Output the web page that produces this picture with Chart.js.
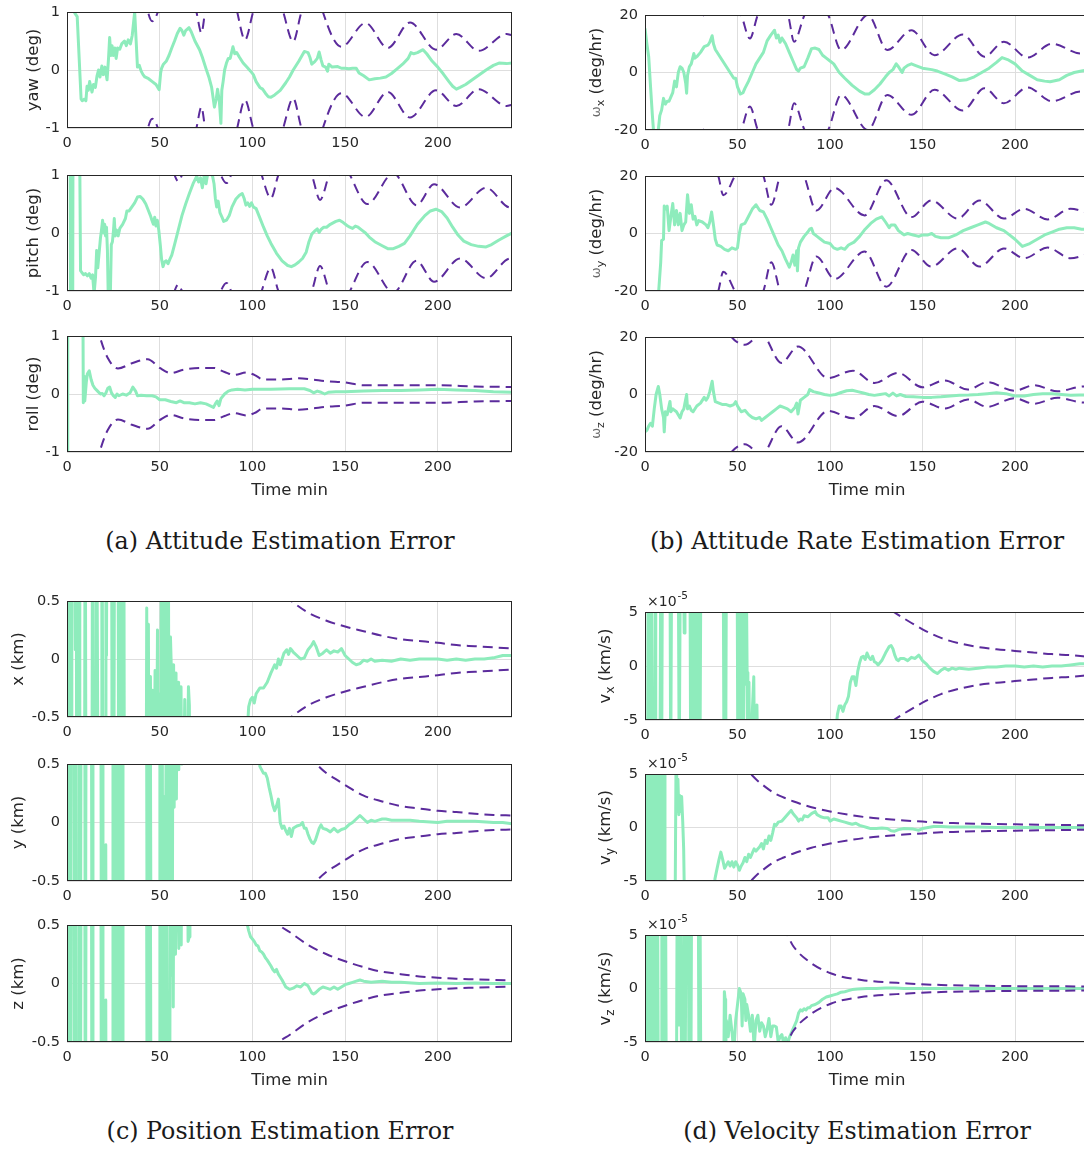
<!DOCTYPE html>
<html>
<head>
<meta charset="utf-8">
<script src="https://cdn.jsdelivr.net/npm/chart.js@4.4.1/dist/chart.umd.min.js"></script>
<style>
  html, body { margin: 0; padding: 0; background: #fff; }
  body { position: relative; width: 1084px; height: 1149px; overflow: hidden; }
  canvas.plot { position: absolute; }
  .caption {
    position: absolute; white-space: nowrap; transform: translateX(-50%);
    font-family: 'DejaVu Serif', serif; font-size: 23.8px; line-height: 30px; color: #1a1a1a;
  }
</style>
</head>
<body>
<div class="caption" style="left:280px; top:526px">(a) Attitude Estimation Error</div>
<div class="caption" style="left:857px; top:526px">(b) Attitude Rate Estimation Error</div>
<div class="caption" style="left:280px; top:1116px">(c) Position Estimation Error</div>
<div class="caption" style="left:857px; top:1116px">(d) Velocity Estimation Error</div>

<script>
// ---- time axis ----
const T_MIN = 0, T_MAX = 240;
const TIME_TICKS = [0, 50, 100, 150, 200];

// ---- attitude error (deg) and 3-sigma bound, as [time, value] ----
const yawErr = [[0,3],[3.6,1.05],[4.2,0.98],[5.5,0.92],[7.6,-0.5],[8.2,-0.53],[9.5,-0.5],[10.2,-0.53],[10.8,-0.28],[11.5,-0.35],[12.2,-0.2],[13.5,-0.38],[14.3,-0.25],[15.3,-0.3],[16.2,-0.1],[17,0],[17.8,-0.12],[18.8,0.07],[19.6,-0.08],[20.5,0.05],[21.6,-0.17],[22.4,0.2],[23,0.56],[23.6,0.25],[24.3,0.42],[25,0.25],[25.8,0.38],[26.5,0.2],[27.3,0.38],[28.5,0.36],[29.5,0.45],[31,0.5],[32,0.42],[33,0.52],[34.2,0.45],[35.2,0.6],[36.5,1.0],[37.3,0.5],[38,0.05],[39,0.08],[40,-0.02],[41,-0.08],[42,-0.12],[44,-0.15],[46,-0.2],[48,-0.25],[49.7,-0.34],[50.5,-0.05],[51,0.03],[52,0.1],[53.5,0.15],[55,0.25],[56.5,0.38],[58,0.5],[59.5,0.63],[61,0.72],[62,0.68],[63,0.6],[64,0.68],[65.8,0.73],[67,0.66],[69,0.5],[71.5,0.35],[73,0.22],[75,0.02],[76.5,-0.12],[78,-0.3],[79.5,-0.64],[80.5,-0.5],[81.2,-0.33],[82.2,-0.55],[83,-0.92],[83.5,-0.35],[84.2,-0.2],[85,0],[86,0.12],[87,0.2],[88,0.2],[89.5,0.4],[90.5,0.28],[91.5,0.3],[93,0.22],[95,0.12],[97,0.05],[99,-0.02],[100.5,-0.08],[102,-0.2],[104,-0.3],[105.5,-0.33],[107,-0.4],[108.5,-0.46],[110,-0.47],[112,-0.43],[115,-0.35],[118,-0.22],[120,-0.12],[122,0],[125,0.15],[128,0.32],[130,0.3],[131,0.22],[132,0.1],[133.5,0.14],[135,0.2],[136,0.31],[137,0.18],[138,0.07],[139.5,0.05],[140.5,-0.02],[141.2,0.1],[143,0.05],[146,0.06],[148,0.03],[150,0.03],[152,0.02],[154,0.03],[156,0.03],[157.5,-0.05],[160,-0.1],[163,-0.17],[166,-0.15],[169,-0.14],[172,-0.12],[175,-0.06],[178,0.02],[181,0.1],[184,0.2],[185.5,0.3],[187,0.28],[189,0.3],[192,0.35],[194,0.28],[197,0.15],[200,0.05],[203,-0.07],[206,-0.2],[208,-0.28],[210,-0.33],[212,-0.3],[215,-0.25],[218,-0.18],[222,-0.09],[226,0],[230,0.08],[233,0.12],[237,0.11],[240,0.12]];
const yawSigma = [[0,4],[33,3],[43.7,1],[46,0.84],[49,1],[59,2.2],[69.8,1],[72.5,0.64],[74.5,1],[84,2.2],[91.8,1],[96,0.52],[100.4,1],[109,1.8],[116.6,1],[122,0.49],[126.5,1],[135,1.4],[138,1],[148,0.4],[161,0.81],[173,0.38],[185,0.82],[199,0.35],[210,0.62],[222,0.33],[237,0.62],[240,0.6]];

const pitchErr = [[0,3],[1.6,3],[2,-3],[3,-3],[3.3,3],[6.5,3],[7.3,-0.65],[8,-0.68],[9,-0.72],[10,-0.7],[11,-0.74],[12,-0.7],[13,-0.78],[13.8,-0.72],[14.6,-1.05],[15.4,-0.75],[16,-0.3],[16.6,-0.6],[17.3,-0.35],[18,-0.1],[18.6,0.05],[19.2,0.22],[19.7,0],[20.3,0.15],[20.8,-0.05],[21.3,0.1],[21.8,-0.3],[22.3,-1.2],[23.3,-1.2],[23.9,-0.2],[24.5,-0.15],[25.1,0.05],[25.5,0.25],[26,-0.05],[26.8,0.05],[27.6,-0.05],[28.5,0.08],[30,0.15],[31.5,0.25],[32.3,0.38],[33.5,0.38],[35,0.45],[36.5,0.52],[38,0.62],[39.5,0.63],[41,0.58],[42.5,0.5],[44,0.38],[45,0.3],[45.8,0.22],[46.6,0.15],[47.3,0.27],[48,0.12],[48.7,0.22],[49.5,0.05],[50.3,-0.2],[51,-0.45],[51.8,-0.58],[52.6,-0.5],[53.5,-0.48],[54.5,-0.53],[55.5,-0.45],[56.5,-0.38],[58,-0.2],[60,0.05],[62,0.3],[64,0.5],[66,0.68],[68,0.85],[70,0.98],[71,0.88],[72,0.95],[73,0.78],[74,1.0],[75,0.85],[76,1.05],[77.5,1.02],[78.5,0.98],[79.3,0.85],[80,0.6],[80.7,0.45],[81.5,0.55],[82.5,0.35],[83.5,0.28],[84.5,0.2],[86,0.22],[87.5,0.3],[89,0.45],[91,0.58],[93,0.65],[94.5,0.68],[95.5,0.6],[96.5,0.48],[97.5,0.52],[98.5,0.46],[99.5,0.52],[100.5,0.45],[102,0.42],[104,0.26],[106,0.1],[108,-0.05],[110,-0.18],[113,-0.35],[116,-0.48],[119,-0.56],[121,-0.58],[123,-0.55],[125,-0.5],[127,-0.44],[129,-0.33],[130.5,-0.15],[132,-0.02],[133.5,0.03],[135,0.07],[136,0.01],[137,0.06],[138.5,0.1],[140,0.1],[142,0.15],[145,0.2],[147,0.22],[149,0.18],[151,0.13],[152.5,0.1],[154,0.08],[155.5,0.12],[157,0.1],[159,0.05],[161,0],[163,-0.07],[166,-0.15],[170,-0.22],[173,-0.27],[176,-0.27],[179,-0.23],[182,-0.18],[185,-0.05],[189,0.15],[193,0.3],[196,0.38],[199,0.41],[202,0.37],[205,0.26],[208,0.1],[211,-0.04],[214,-0.14],[218,-0.2],[222,-0.23],[226,-0.24],[229,-0.2],[233,-0.12],[237,-0.05],[240,0]];
const pitchSigma = [[0,4],[48,2.2],[58,1],[60,0.89],[62,1],[73,2.0],[83,1],[86,0.86],[88.5,1],[98,1.8],[105,1],[110,0.6],[114,1],[123,1.5],[132,1],[136.5,0.57],[141.5,1],[149,1.25],[152.6,1],[162,0.5],[176,1.03],[188.5,0.48],[198,0.84],[212,0.44],[226,0.78],[239,0.44],[240,0.44]];

const rollErr = [[0,-3],[0.4,3],[8.4,3],[8.8,-0.15],[9.2,0.3],[9.6,-0.12],[10.4,0.2],[11,0.35],[12,0.4],[13,0.25],[14,0.15],[15,0.1],[16.5,0.05],[18,0],[19,0.01],[20,-0.03],[21,0.02],[22,0.1],[23,0.12],[24,0.02],[25,-0.03],[26,-0.06],[27,0],[28,-0.03],[30,0],[32,-0.02],[34,0.02],[35.5,0.12],[37,0.05],[38,-0.03],[40,-0.02],[43,-0.03],[46,-0.03],[48,-0.05],[50,-0.1],[53,-0.1],[56,-0.13],[59,-0.15],[61,-0.12],[63,-0.15],[66,-0.15],[69,-0.17],[72,-0.15],[75,-0.17],[77,-0.2],[79,-0.23],[80,-0.17],[81,-0.12],[82,-0.2],[83,-0.08],[85,0],[87,0.05],[89,0.07],[92,0.08],[96,0.07],[100,0.08],[110,0.08],[120,0.09],[128,0.09],[131,0.06],[133,0.02],[135,0.05],[137,0.03],[139,0],[141,0.03],[145,0.04],[150,0.04],[160,0.05],[170,0.06],[180,0.06],[190,0.07],[200,0.08],[210,0.07],[220,0.06],[230,0.04],[240,0.03]];
const rollSigma = [[10,2],[17.6,1],[22,0.62],[27.5,0.44],[35,0.53],[43.5,0.6],[50,0.45],[56,0.36],[63,0.42],[72,0.45],[79,0.45],[85,0.38],[90,0.33],[97,0.37],[101,0.33],[106,0.25],[115,0.25],[125,0.27],[132,0.25],[140,0.22],[150,0.2],[160,0.15],[180,0.15],[200,0.15],[220,0.13],[240,0.12]];

// ---- attitude rate error (deg/hr) ----
const rateXErr = [[0,15.3],[1,10],[2,5.5],[3,-5],[4,-15],[4.8,-22],[6,-26],[7.2,-20],[8,-15],[9,-13],[10,-9],[11,-11],[12,-10],[13,-10],[14,-8.5],[15,-7],[16,-3],[17,-5],[18,0],[19,2],[20,1.5],[21,0],[22,-3.7],[22.5,-7.2],[23,-1],[24,2],[25,3],[26.4,6.6],[27,5],[28,5.5],[30,7],[32,9],[34,9.5],[35,10.5],[36.3,12.8],[37,10],[38,8],[40,6],[42,4],[44,2],[46,0],[48,-2],[49,-2],[50,-5],[51.6,-7.5],[53,-7],[54,-5.5],[56,-3],[58,0],[60,3],[62,5],[64,7],[66,11],[68,13],[70,14.7],[71,12],[72,13],[73,10.5],[74,12],[75,11],[76,10],[78,7],[80,4],[82,1],[83,0.5],[84,1.5],[86,2],[88,5],[90,8.3],[92,8.5],[94,8],[96,6],[98,5],[100,4],[102,3],[105,0],[108,-2],[112,-4.5],[116,-6.5],[119,-7.5],[121,-7.5],[124,-6],[127,-4],[130,-1.5],[132,0],[134,1],[135.8,3],[137,2],[138,1],[139,0],[140,1.5],[142,2.5],[144,3],[146,2.5],[150,1.5],[155,1],[158,0.5],[162,-0.5],[166,-1.5],[170,-2.8],[174,-2.5],[178,-1.5],[182,0],[186,1.5],[190,3.5],[193,5.2],[196,4.5],[200,3],[204,0.5],[208,-1],[212,-2.5],[216,-3],[219,-3.2],[224,-2.5],[228,-1],[232,0],[236,0.5],[240,1]];
const rateXSigma = [[0,40],[20,35],[33,19.5],[45,28],[52,20],[56.7,11.8],[61,20],[69,26],[77.3,20],[80.6,10.7],[86.3,20],[93,24],[99,20],[106,7.8],[120.5,20],[131,7.8],[144,14.7],[156.5,6],[171.8,13.2],[183.5,5.5],[194,10.7],[206.8,5.2],[220,10],[235.6,6.6],[240,7]];

const rateYErr = [[0,-30],[6.8,-30],[7.4,-20],[8.5,-10],[9,-2.4],[10,-2],[10.4,9.6],[11,8.5],[12,9.5],[13,1],[14,6],[15,10.4],[16,3],[17,8],[18,3],[19,7],[20,1],[21,3],[22,4],[23,13.5],[24,7],[25,10],[26,5],[27,6],[28,3],[29,4.5],[31,4],[33,3],[34,2],[35,4],[36,7.5],[37,3],[38,-2],[39,-4],[41,-4.5],[43,-5.5],[45,-6],[47,-5],[49,-5.5],[50,-5],[51,0],[52,3],[54,3.5],[56,6],[58,8.5],[60,10],[62,8],[64,7.5],[66,5],[68,2],[70,-1],[72,-4],[74,-6],[76,-9],[78,-11.7],[79,-10],[80,-7.5],[81,-11],[82,-6],[82.4,-13],[83,-5],[84,-3],[86,-1],[88,0.5],[89,1.5],[90,1.8],[91,0],[93,-1],[95,-2],[97,-3],[100,-3.5],[102,-5],[104,-5.5],[106,-5],[108,-5.5],[110,-4],[113,-3],[116,-1],[119,1.5],[122,3.5],[125,5],[128,5.8],[130,4],[132,2],[133,3],[135,3],[137,1],[139,0],[140,-0.5],[142,0],[145,-0.5],[148,-1],[150,-0.5],[153,-0.5],[155,0],[157,-1],[160,-1.5],[164,-1.5],[168,-0.5],[172,1],[176,2],[180,3],[184,4],[186,3.5],[190,2],[194,1],[197,-0.5],[200,-2],[204,-4.5],[208,-3.5],[212,-2],[216,-0.5],[220,0.5],[224,1.5],[228,2],[232,2],[236,1.5],[240,1.5]];
const rateYSigma = [[0,40],[30,30],[39.6,20],[42.3,13.3],[48.6,20],[56,28],[64,20],[68.3,10],[73,20],[80,26],[86,20],[92.6,8],[102.5,15.8],[118.7,6.3],[130.4,18.5],[144,5.7],[154.7,11.5],[169,5.2],[180.8,11.5],[194,5.2],[205,8.6],[217.6,4.9],[230,8.6],[240,7]];

const rateZErr = [[0,-13],[1,-12.5],[2,-11],[3,-10],[4,-11],[5,-5],[6,0],[7.2,2.8],[8,0],[9,-5],[10,-8],[10.4,-13],[11,-6],[12,-7],[13.5,-2.4],[14,-6],[15,-5],[17,-6],[19,-8.2],[20,-6],[21,-5],[22.5,0],[23,-5],[24,-4],[25,-5.5],[26,-6],[28,-4],[30,-3],[32,-1],[33,-2],[34,-1],[35,1],[36.3,4.6],[37,1],[38,-2.5],[40,-3],[42,-3.5],[44,-3.5],[46,-4],[48,-3.5],[49,-2.5],[50,-4],[51,-5],[52,-6],[54,-5.5],[56,-7],[58,-8],[60,-8.5],[62,-8],[63,-9],[65,-8],[67,-7],[69,-6],[71,-5],[73,-4],[75,-4.5],[77,-5],[79,-6],[81,-4.5],[82,-3],[82.7,-6.8],[84,-2],[86,-1],[88,0],[89,1.7],[91,1],[94,0.5],[97,0],[100,-0.3],[103,0],[106,0.7],[109,1.3],[112,1.5],[115,1],[118,0.5],[121,0],[124,-0.3],[127,0],[130,0.3],[132,-0.5],[134,0.5],[136,-0.5],[138,0],[141,-0.7],[145,-0.8],[150,-1],[155,-1],[160,-0.8],[165,-0.5],[170,-0.3],[175,-0.2],[180,0],[185,0.3],[190,0.6],[195,0.3],[200,-0.5],[205,-0.5],[210,0],[215,0.3],[220,0.3],[225,0],[230,-0.3],[235,-0.2],[240,-0.2]];
const rateZSigma = [[30,40],[46.8,20],[54,17.3],[63,21],[73.7,11],[82.7,16.7],[99,5.7],[112.4,8.3],[124,4],[136.7,7.5],[150,2.5],[162,4.9],[174.5,1.7],[185,4.3],[199.6,1.3],[210.4,3.2],[223,1.1],[237,2.8],[240,2.7]];

// ---- position error (km) ----
const posXErr = [[0,2],[0.4,-2],[0.8,2],[1.3,-2],[1.8,2],[2.3,-2],[2.6,2],[3.8,2],[4.5,0.08],[4.9,2],[5.3,-2],[6.2,-2],[6.5,2],[6.9,-2],[9.4,-2],[9.8,2],[10.3,-2],[13.4,-2],[13.8,2],[14.3,-2],[15.5,-2],[15.9,2],[16.4,0.1],[16.9,-2],[18.4,-2],[18.8,2],[19.5,-2],[20.6,-2],[21,2],[21.3,0.03],[21.6,2],[24,2],[24.4,-2],[24.8,2],[25.2,-2],[25.7,2],[27.5,2],[27.9,-2],[28.4,2],[28.9,-2],[29.4,2],[30,-2],[30.6,2],[31,-2],[42.6,-2],[43,0.44],[43.4,-2],[43.9,0.3],[44.3,-2],[45,-0.15],[45.4,-2],[46.2,-0.27],[46.6,-2],[47.5,-0.1],[48,-2],[48.8,0.25],[49.3,-2],[50,-0.3],[50.5,-2],[51,2],[51.6,-2],[52.2,2],[52.8,-2],[53.3,2],[54,-2],[54.5,2],[55.2,-2],[55.8,0.19],[56.3,-0.1],[56.8,-2],[57.5,-0.05],[58,-2],[58.8,-0.12],[59.4,-2],[60.2,-0.2],[60.8,-2],[61.5,-0.24],[62.2,-2],[63.5,-0.35],[64,-2],[65.5,-0.24],[66,-0.4],[66.6,-2],[96.8,-2],[97.3,-0.6],[98,-0.41],[99,-0.35],[100,-0.33],[101,-0.38],[102,-0.3],[104,-0.25],[106,-0.25],[108,-0.2],[110,-0.12],[112,-0.05],[113,-0.08],[114,0],[115,-0.05],[117,0.05],[118.5,0.08],[119.5,0.04],[120.5,0.09],[122,0.06],[124,0.03],[126,0],[128,0.01],[130,0.08],[132,0.12],[133,0.15],[134.5,0.1],[136,0.03],[138,0.05],[140,0.08],[142,0.05],[144,0.07],[146,0.06],[148,0.09],[150,0.03],[152,0],[154,-0.03],[156,-0.05],[158,-0.04],[160,-0.01],[162,-0.02],[164,0],[166,-0.02],[170,-0.01],[175,-0.02],[180,0],[185,-0.01],[190,0],[200,0],[205,-0.01],[210,0],[215,-0.01],[220,0],[225,0],[230,0.01],[235,0.03],[240,0.03]];
const posXSigma = [[100,0.85],[110,0.65],[121,0.5],[130,0.4],[140,0.33],[150,0.28],[160,0.24],[170,0.2],[180,0.17],[190,0.155],[200,0.14],[210,0.12],[220,0.11],[230,0.1],[240,0.09]];

const posYErr = [[0,-2],[0.3,2],[0.8,-2],[1.3,2],[1.8,-2],[2.3,2],[3.6,2],[4,-2],[4.4,2],[4.8,-2],[6.3,-2],[6.7,2],[7.2,-2],[7.7,2],[9.5,2],[9.9,-2],[10.4,2],[13.1,2],[13.5,-2],[14,2],[18.2,2],[18.6,-2],[19,2],[19.4,-2],[20.6,-2],[20.9,-0.19],[21.2,-2],[24.4,-2],[24.8,2],[25.2,-2],[25.7,2],[26.6,2],[27,-2],[27.5,2],[28.4,2],[28.8,-2],[29.3,2],[29.8,-2],[30.2,2],[42.8,2],[43.3,-2],[43.8,2],[44.3,-2],[44.8,2],[45.4,-2],[49.7,-2],[50.1,2],[50.6,-2],[51.2,2],[51.8,-2],[52.3,0.22],[52.8,-2],[53.3,0.15],[53.8,2],[54.3,-2],[54.9,2],[55.5,-2],[56.1,2],[56.7,-2],[57.2,2],[57.8,0.13],[58.4,2],[59,0.2],[59.5,2],[60.3,0.45],[60.8,2],[61.5,0.5],[62,2],[103.4,2],[104,0.48],[105,0.45],[106,0.42],[107,0.42],[108,0.38],[109,0.3],[110,0.23],[111,0.15],[112,0.1],[113,0.14],[114,0.2],[115,0],[116,-0.05],[117,-0.03],[118,-0.07],[119,-0.1],[120,-0.05],[121,-0.12],[122,-0.05],[124,-0.03],[126,-0.02],[127,0],[128,-0.05],[129,-0.05],[130,-0.1],[131,-0.14],[132,-0.17],[133,-0.18],[134,-0.15],[135,-0.1],[136,-0.05],[137,-0.02],[138,-0.05],[140,-0.06],[142,-0.08],[144,-0.05],[146,-0.08],[148,-0.06],[150,-0.05],[152,-0.02],[154,0],[156,0.03],[158,0.06],[160,0.03],[162,0],[164,0.02],[166,0.01],[168,0.02],[170,0.03],[172,0.03],[175,0.02],[180,0.02],[185,0.02],[190,0.01],[200,0],[205,0.01],[210,0.01],[220,0.01],[230,0],[235,0],[240,-0.01]];
const posYSigma = [[120,0.8],[134.6,0.5],[140,0.42],[145,0.37],[150,0.32],[160,0.23],[170,0.18],[180,0.14],[190,0.12],[200,0.1],[210,0.09],[220,0.075],[230,0.065],[240,0.06]];

const posZErr = [[0,-2],[0.3,2],[0.8,-2],[1.3,2],[1.8,-2],[2.3,2],[3.6,2],[4,-2],[4.4,2],[4.8,-2],[6.3,-2],[6.7,2],[7.2,-2],[7.7,2],[9.5,2],[9.9,-2],[10.4,2],[13.1,2],[13.5,-2],[14,2],[18.2,2],[18.6,-2],[19,2],[19.4,-2],[20.6,-2],[20.9,-0.14],[21.2,-2],[24.4,-2],[24.8,2],[25.2,-2],[25.7,2],[26.6,2],[27,-2],[27.5,2],[28.4,2],[28.8,-2],[29.3,2],[29.8,-2],[30.2,2],[42.8,2],[43.3,-2],[43.8,2],[44.3,-2],[44.8,2],[45.4,-2],[49.7,-2],[50.1,2],[50.6,-2],[51.2,2],[51.8,-2],[52.4,2],[53,-2],[53.6,2],[54.2,-2],[54.8,-0.38],[55.3,-2],[55.8,2],[56.3,0.07],[56.8,2],[57.3,-0.2],[57.8,2],[58.5,0.25],[59.2,2],[60.3,0.3],[60.8,2],[61.6,0.33],[62.1,2],[64.8,2],[65.3,0.36],[66,0.4],[66.3,2],[96.8,2],[97.3,0.5],[98,0.45],[99,0.4],[100,0.38],[101,0.36],[102,0.33],[103,0.32],[104,0.28],[105,0.27],[106,0.25],[107,0.22],[108,0.2],[110,0.15],[111,0.12],[112,0.1],[113,0.12],[114,0.08],[116,0.03],[117,0],[118,-0.03],[120,-0.05],[122,-0.04],[124,-0.02],[126,-0.03],[128,0],[130,-0.02],[131,-0.05],[132,-0.08],[133,-0.09],[134,-0.08],[136,-0.05],[138,-0.03],[140,-0.04],[142,-0.05],[144,-0.03],[146,-0.05],[148,-0.03],[150,-0.01],[152,0],[154,0.01],[156,0.02],[158,0.03],[160,0.02],[164,0.01],[170,0.02],[175,0.01],[180,0.01],[190,0],[200,0.005],[210,0],[220,0.005],[230,0],[240,0]];
const posZSigma = [[100,0.8],[114.5,0.5],[120,0.44],[130,0.33],[140,0.25],[150,0.19],[160,0.14],[170,0.1],[180,0.08],[190,0.06],[200,0.05],[210,0.04],[220,0.035],[230,0.03],[240,0.025]];

// ---- velocity error (1e-5 km/s) ----
const velXErr = [[0,-10],[1.4,-10],[1.7,10],[2.1,-10],[3,-10],[3.4,10],[3.9,-10],[5.2,-10],[5.5,10],[5.8,-10],[8.1,-10],[8.5,10],[9,-10],[9.4,10],[13.5,10],[13.9,-10],[14.4,10],[18,10],[18.5,-10],[19.1,10],[20.7,10],[21.2,3.05],[21.6,10],[24.3,10],[24.7,-10],[25.2,10],[25.6,-10],[26.2,10],[26.8,-10],[27.4,10],[27.9,-10],[28.8,-10],[29.2,10],[29.7,-10],[30.2,10],[42.3,10],[42.7,-10],[43.2,10],[43.6,-10],[44,10],[49.8,10],[50.2,-10],[50.7,10],[51.2,-10],[51.7,10],[52.2,-10],[52.7,10],[53.2,-10],[53.7,10],[54.3,-1.7],[54.7,10],[55.2,-0.6],[55.6,-10],[56.2,-1.5],[56.6,-10],[58.8,-1],[59.3,-10],[60.5,-3.6],[61,-10],[103,-10],[103.5,-5.5],[104,-4.5],[105,-3.7],[106,-3.7],[107,-4.2],[108,-3.6],[109,-3.3],[110,-2.8],[111,-1.5],[112,-1],[113,-1],[114,-1.8],[115,-0.5],[116,0.3],[117,0.8],[118,0.9],[119,0.6],[120,1.2],[121,0.8],[122,0.6],[123,0.9],[124,0.4],[125,0.3],[126,0.1],[127,0.3],[128,0.5],[130,1.2],[132,1.8],[133,1.9],[134,1.6],[135,1],[136,0.6],[137,0.5],[138,0.7],[140,0.7],[142,0.5],[144,0.8],[146,0.7],[148,1],[150,0.5],[152,0.2],[154,-0.2],[156,-0.5],[158,-0.7],[160,-0.4],[162,-0.2],[164,-0.4],[166,-0.2],[168,-0.3],[170,-0.2],[175,-0.3],[180,-0.2],[185,-0.1],[190,-0.1],[195,0],[200,0],[205,-0.1],[210,0],[215,-0.1],[220,0],[225,0],[230,0.1],[235,0.2],[240,0.2]];
const velXSigma = [[120,7],[134.5,5],[140,4.4],[150,3.4],[160,2.6],[170,2.1],[180,1.75],[190,1.55],[200,1.4],[210,1.25],[220,1.1],[230,1],[240,0.85]];

const velYErr = [[0,-10],[0.4,10],[0.9,-10],[1.7,10],[2.2,-10],[3.2,10],[3.7,-10],[4.5,10],[5,-10],[6.5,10],[6.9,-10],[7.3,10],[7.8,-10],[8.3,10],[8.8,-10],[9.4,10],[9.9,-10],[10.4,10],[10.8,-10],[16.2,-10],[16.9,10],[17.3,1.5],[17.8,4.5],[18.3,1.2],[18.8,3],[19.2,1.5],[19.8,2.9],[20.4,0.5],[20.9,-2],[21.6,-10],[37.3,-10],[37.8,-4.8],[39,-3.8],[40,-3],[41,-2.3],[42,-3],[43,-3.8],[44,-3.5],[45,-3.2],[46,-3.6],[47,-3.2],[48,-3.7],[49,-3.2],[50,-3.5],[51,-4],[52,-3.6],[53,-3.3],[54,-2.8],[55,-3.2],[56,-2.5],[57,-2.8],[58,-2.4],[59,-2],[60,-2.2],[62,-1.8],[63,-1.5],[64,-2],[65,-1.2],[66,-1.5],[67,-0.8],[68,-1.2],[69,-0.5],[70,0.3],[71,0.2],[72,0.5],[74,0.6],[76,1],[78,1.4],[79,1.6],[80,1.3],[81,1.1],[82,0.9],[83,0.6],[84,0.8],[85,0.7],[86,1.1],[88,1],[90,1.3],[92,1.5],[93,1.2],[95,1],[97,0.9],[99,0.9],[100,0.6],[102,0.8],[104,0.7],[106,0.6],[108,0.5],[110,0.4],[112,0.3],[114,0.4],[116,0.2],[118,0.1],[120,0],[122,-0.1],[125,-0.1],[128,-0.05],[131,-0.1],[133,-0.3],[135,-0.35],[137,-0.2],[140,-0.1],[145,-0.15],[148,-0.25],[150,-0.1],[153,0],[156,0.1],[160,0.1],[165,0.05],[170,0.05],[180,0.05],[190,0],[200,0],[210,0],[220,0],[230,0],[240,0]];
const velYSigma = [[45,7],[57.2,5],[60,4.5],[65,3.8],[70,3.2],[75,2.8],[80,2.45],[90,1.9],[100,1.5],[110,1.2],[120,0.95],[130,0.8],[140,0.65],[150,0.55],[160,0.45],[170,0.4],[180,0.35],[190,0.32],[200,0.3],[220,0.25],[240,0.2]];

const velZErr = [[0,10],[0.3,-10],[0.8,10],[1.5,-10],[2,10],[2.6,-10],[3.1,10],[3.6,-10],[4.1,10],[4.8,-10],[5.5,10],[6.2,-10],[6.8,10],[7.2,-10],[8.7,-10],[9.1,10],[9.6,-10],[10.1,10],[10.6,-10],[11.1,10],[11.5,-10],[17,-10],[17.4,10],[17.9,-3.4],[18.3,10],[18.8,-1.5],[19.3,10],[19.8,-10],[20.8,-10],[21.2,10],[21.7,-10],[22.2,10],[23.4,10],[23.8,-10],[24.3,10],[24.8,-10],[25.2,10],[28.8,10],[29.2,-10],[29.7,10],[30.2,-10],[42.5,-10],[42.9,-0.3],[43.3,-1],[43.6,-6],[44,-3],[45,-4.5],[46,-2.5],[47,-4],[48,-6],[49,-3],[50,-1.5],[51,0],[52,-0.5],[52.5,-3.5],[53,-0.5],[54,-1],[54.5,-3],[55,-1.5],[56,-2.5],[57,-4],[58,-2.5],[59,-5.5],[60,-3],[61,-2.5],[62,-4],[63,-3.2],[64,-3.5],[65,-4.5],[66,-3.8],[67,-2.8],[68,-4.5],[69,-3.5],[70,-3.5],[71,-3.6],[72,-5],[73,-4.5],[74,-4.3],[75,-5.2],[76,-4.6],[77,-5.2],[78,-4.6],[79,-4.2],[80,-3.8],[81,-3.4],[82,-3],[83,-2.3],[84,-2],[85,-2.1],[86,-1.9],[87,-2],[88,-1.8],[89,-1.8],[90,-1.6],[92,-1.5],[94,-1.3],[96,-1],[98,-0.8],[100,-0.7],[102,-0.6],[104,-0.5],[106,-0.35],[108,-0.3],[110,-0.2],[112,-0.1],[115,-0.05],[120,0],[125,0],[130,0.05],[135,0.05],[140,0],[150,0],[160,0],[180,0],[200,0],[220,0],[240,0]];
const velZSigma = [[70,7],[77,5],[80,4],[88,2.6],[100.7,1.4],[117,0.8],[142,0.47],[160,0.33],[196,0.23],[240,0.19]];

// ---- styling ----
const ERR_COLOR = '#8eecbc';
const BOUND_COLOR = '#5b2b9c';
const TEXT_COLOR = '#262626';
const GRID_COLOR = '#dedede';
const FONT = "'DejaVu Sans', sans-serif";

Chart.defaults.font.family = FONT;
Chart.defaults.font.size = 14.5;
Chart.defaults.color = TEXT_COLOR;

// plot boxes are [left, top, right, bottom] in page pixels
const PLOTS = [
  { box: [67, 12, 512, 128],   range: 1,   err: yawErr,   sigma: yawSigma,   labelX: 34,  label: [{ text: 'yaw (deg)' }] },
  { box: [67, 175, 512, 291],  range: 1,   err: pitchErr, sigma: pitchSigma, labelX: 34,  label: [{ text: 'pitch (deg)' }] },
  { box: [67, 336, 512, 452],  range: 1,   err: rollErr,  sigma: rollSigma,  labelX: 34,  label: [{ text: 'roll (deg)' }], time: true },
  { box: [645, 15, 1089, 130], range: 20,  err: rateXErr, sigma: rateXSigma, labelX: 597, label: rateLabel('x') },
  { box: [645, 176, 1089, 291], range: 20, err: rateYErr, sigma: rateYSigma, labelX: 597, label: rateLabel('y') },
  { box: [645, 337, 1089, 452], range: 20, err: rateZErr, sigma: rateZSigma, labelX: 597, label: rateLabel('z'), time: true },
  { box: [67, 601, 512, 717],  range: 0.5, err: posXErr,  sigma: posXSigma,  labelX: 19,  label: [{ text: 'x (km)' }] },
  { box: [67, 764, 512, 881],  range: 0.5, err: posYErr,  sigma: posYSigma,  labelX: 19,  label: [{ text: 'y (km)' }] },
  { box: [67, 925, 512, 1042], range: 0.5, err: posZErr,  sigma: posZSigma,  labelX: 19,  label: [{ text: 'z (km)' }], time: true },
  { box: [645, 612, 1089, 720], range: 5,  err: velXErr,  sigma: velXSigma,  labelX: 606, label: velLabel('x'), exp: true },
  { box: [645, 774, 1089, 881], range: 5,  err: velYErr,  sigma: velYSigma,  labelX: 606, label: velLabel('y'), exp: true },
  { box: [645, 935, 1089, 1042], range: 5, err: velZErr,  sigma: velZSigma,  labelX: 606, label: velLabel('z'), exp: true, time: true },
];

function rateLabel(axis) {
  return [
    { text: '\u03c9', size: 13, color: '#6a6a6a' },
    { text: axis, size: 11, shift: 4 },
    { text: ' (deg/hr)' }
  ];
}

function velLabel(axis) {
  return [
    { text: 'v' },
    { text: axis, size: 12, shift: 5 },
    { text: ' (km/s)' }
  ];
}

const toXY = pairs => pairs.map(([x, y]) => ({ x, y }));

// box outline drawn over the data, like an axes frame
const framePlugin = {
  id: 'frame',
  afterDatasetsDraw(chart) {
    const { ctx, chartArea: a } = chart;
    ctx.save();
    ctx.strokeStyle = TEXT_COLOR;
    ctx.lineWidth = 1;
    ctx.strokeRect(a.left + 0.5, a.top + 0.5, a.right - a.left - 1, a.bottom - a.top - 1);
    ctx.restore();
  }
};

// rotated y label with optional subscript pieces
function yLabelPlugin(parts, x) {
  return {
    id: 'ylabel',
    afterDraw(chart) {
      const { ctx, chartArea: a } = chart;
      ctx.save();
      ctx.translate(x, (a.top + a.bottom) / 2);
      ctx.rotate(-Math.PI / 2);
      ctx.textBaseline = 'middle';
      ctx.textAlign = 'left';
      let total = 0;
      parts.forEach(p => {
        ctx.font = `${p.size || 16.5}px ${FONT}`;
        total += ctx.measureText(p.text).width;
      });
      let cx = -total / 2;
      parts.forEach(p => {
        ctx.font = `${p.size || 16.5}px ${FONT}`;
        ctx.fillStyle = p.color || TEXT_COLOR;
        ctx.fillText(p.text, cx, p.shift || 0);
        cx += ctx.measureText(p.text).width;
      });
      ctx.restore();
    }
  };
}

// "x10^-5" multiplier above the velocity axes
const exponentPlugin = {
  id: 'exponent',
  afterDraw(chart) {
    const { ctx, chartArea: a } = chart;
    ctx.save();
    ctx.fillStyle = TEXT_COLOR;
    ctx.textBaseline = 'alphabetic';
    ctx.textAlign = 'left';
    ctx.font = `14px ${FONT}`;
    const x = a.left + 2, y = a.top - 6;
    ctx.fillText('\u00d710', x, y);
    const w = ctx.measureText('\u00d710').width;
    ctx.font = `10.5px ${FONT}`;
    ctx.fillText('-5', x + w + 1, y - 7);
    ctx.restore();
  }
};

function buildPlot(p) {
  const [left, top, right, bottom] = p.box;
  const canvasLeft = left < 300 ? 0 : 575;
  const padTop = p.exp ? 24 : 10;
  const xH = p.time ? 52 : 24;
  const width = right + 8 - canvasLeft;
  const height = (bottom - top) + padTop + xH;

  const canvas = document.createElement('canvas');
  canvas.className = 'plot';
  canvas.width = width;
  canvas.height = height;
  canvas.style.left = canvasLeft + 'px';
  canvas.style.top = (top - padTop) + 'px';
  canvas.style.width = width + 'px';
  canvas.style.height = height + 'px';
  document.body.appendChild(canvas);

  const boundStyle = {
    borderColor: BOUND_COLOR, borderWidth: 2, borderDash: [10, 6],
    pointRadius: 0, cubicInterpolationMode: 'monotone', fill: false, clip: 0
  };

  const plugins = [framePlugin, yLabelPlugin(p.label, p.labelX - canvasLeft)];
  if (p.exp) plugins.push(exponentPlugin);

  new Chart(canvas, {
    type: 'line',
    data: {
      datasets: [
        Object.assign({ data: toXY(p.sigma) }, boundStyle),
        Object.assign({ data: p.sigma.map(([t, s]) => ({ x: t, y: -s })) }, boundStyle),
        { data: toXY(p.err), borderColor: ERR_COLOR, borderWidth: 3, pointRadius: 0,
          tension: 0, fill: false, clip: 0, borderJoinStyle: 'round' }
      ]
    },
    options: {
      responsive: false,
      animation: false,
      events: [],
      layout: { padding: { top: padTop, right: 8, left: 0, bottom: 0 } },
      plugins: { legend: { display: false }, tooltip: { enabled: false } },
      scales: {
        x: {
          type: 'linear', min: T_MIN, max: T_MAX,
          afterBuildTicks: s => { s.ticks = TIME_TICKS.map(v => ({ value: v })); },
          afterFit: s => { s.height = xH; s.paddingLeft = 0; s.paddingRight = 0; },
          grid: { color: GRID_COLOR, drawTicks: false },
          border: { display: false },
          ticks: { padding: 7, maxRotation: 0 },
          title: { display: !!p.time, text: 'Time min', font: { size: 16.5 }, padding: { top: 0, bottom: 3 } }
        },
        y: {
          min: -p.range, max: p.range,
          afterBuildTicks: s => { s.ticks = [-p.range, 0, p.range].map(v => ({ value: v })); },
          afterFit: s => { s.width = left - canvasLeft; s.paddingTop = 0; s.paddingBottom = 0; },
          grid: { color: GRID_COLOR, drawTicks: false },
          border: { display: false },
          ticks: { padding: 7 }
        }
      }
    },
    plugins
  });
}

PLOTS.forEach(buildPlot);
</script>
</body>
</html>
